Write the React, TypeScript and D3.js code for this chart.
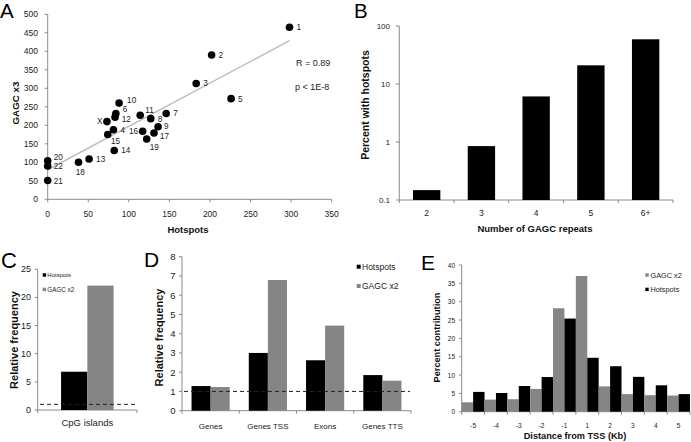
import React from "react";
import * as d3 from "d3";

// ---------- Panel A data ----------
const pointLabels = ["1","2","3","4","5","6","7","8","9","10","11","12","13","14","15","16","17","18","19","20","21","22","X"];
const hotspotCounts = [298,202,183,81,226,84,146,127,136,88,114,83,51,82,74,117,131,38,122,0,0,0,73];
const gagcX3Counts = [465,390,313,188,272,232,232,218,196,260,227,222,109,132,175,184,179,100,163,104,51,90,210];
const scatterXTicks = [0,50,100,150,200,250,300,350];
const scatterYTicks = [0,50,100,150,200,250,300,350,400,450,500];
const statTexts = ["R = 0.89", "p < 1E-8"];

// ---------- Panel B data ----------
const repeatCategories = ["2","3","4","5","6+"];
const percentWithHotspots = [0.148,0.85,6.1,21,59];
const logTicks = [0.1,1,10,100];

// ---------- Panel C data ----------
const cpgCategories = ["CpG islands"];
const cpgHotspots = [6.8];
const cpgGagc = [22.1];
const cpgTicks = [0,5,10,15,20,25];

// ---------- Panel D data ----------
const regionCategories = ["Genes","Genes TSS","Exons","Genes TTS"];
const regionHotspots = [1.28,3.0,2.62,1.85];
const regionGagc = [1.23,6.79,4.42,1.56];
const regionTicks = [0,1,2,3,4,5,6,7,8];

// ---------- Panel E data ----------
const tssBins = ["-5","-4","-3","-2","-1","1","2","3","4","5"];
const tssGagc = [2.55,3.3,3.4,6.2,28.2,37.0,6.9,4.8,4.5,4.4];
const tssHotspots = [5.4,5.1,7.0,9.45,25.4,14.7,12.4,9.5,7.2,4.8];
const tssTicks = [0,5,10,15,20,25,30,35,40];

const expectedRatio = 1;

const FONT = "'Liberation Sans', Arial, Helvetica, sans-serif";
const AXIS = "#8a8a8a";
const GRAY = "#858585";

// label placement [dx, dy, anchor]
const labelPlacement: Record<string, [number, number, string]> = {
  X: [-4.5, 0, "end"],
  "16": [-4.5, 0, "end"],
  "18": [1.7, 10.5, "middle"],
  "15": [3.3, 7, "start"],
  "19": [3, 8.5, "start"],
  "6": [7, -4, "start"],
  "11": [5, -5, "start"],
  "10": [8, -2.5, "start"],
  "20": [6, -3.3, "start"],
  "12": [6.7, 2.3, "start"],
  "17": [6, 3, "start"],
  "9": [6, -0.5, "start"],
  "22": [6, 0.8, "start"],
  "21": [6, 1, "start"],
};

export default function App() {
  // ---------------- Panel A ----------------
  const xA = d3.scaleLinear().domain([0, 350]).range([47.7, 331.7]);
  const yA = d3.scaleLinear().domain([0, 500]).range([199.3, 14.3]);
  const mx = d3.mean(hotspotCounts) as number;
  const my = d3.mean(gagcX3Counts) as number;
  const sxy = d3.sum(hotspotCounts.map((x, i) => (x - mx) * (gagcX3Counts[i] - my)));
  const sxx = d3.sum(hotspotCounts.map((x) => (x - mx) * (x - mx)));
  const slope = sxy / sxx;
  const intercept = my - slope * mx;
  const xMax = d3.max(hotspotCounts) as number;
  const trend = d3.line()([
    [xA(0), yA(intercept)],
    [xA(xMax), yA(intercept + slope * xMax)],
  ]) as string;

  // ---------------- Panel B ----------------
  const xB = d3.scaleBand<string>().domain(repeatCategories).range([399.3, 673]).paddingInner(0.5).paddingOuter(0.25);
  const yB = d3.scaleLog().domain([0.1, 100]).range([200, 26]);
  const stepB = xB.step();

  // ---------------- Panel C ----------------
  const yC = d3.scaleLinear().domain([0, 25]).range([410, 269.3]);
  const xC = d3.scaleBand<string>().domain(cpgCategories).range([37.7, 137]);
  const innerC = d3.scaleBand<string>().domain(["h", "g"]).range([0, xC.bandwidth()]).paddingOuter(0.89);

  // ---------------- Panel D ----------------
  const yD = d3.scaleLinear().domain([0, 8]).range([410.7, 256.7]);
  const xD = d3.scaleBand<string>().domain(regionCategories).range([182, 411]);
  const innerD = d3.scaleBand<string>().domain(["h", "g"]).range([0, xD.bandwidth()]).paddingOuter(0.5);

  // ---------------- Panel E ----------------
  const yE = d3.scaleLinear().domain([0, 40]).range([411.7, 265]);
  const xE = d3.scaleBand<string>().domain(tssBins).range([461.7, 690]);
  const innerE = d3.scaleBand<string>().domain(["g", "h"]).range([0, xE.bandwidth()]);

  const bold = { fontWeight: 700 } as const;

  return (
    <svg width={691} height={442} style={{ position: "absolute", left: 0, top: 0, background: "#fff" }} fontFamily={FONT}>
      <rect x={0} y={0} width={691} height={442} fill="#fff" />

      {/* ================= A ================= */}
      <text x={0} y={18} fontSize={20.5}>A</text>
      <line x1={xA(0)} x2={xA(350)} y1={yA(0)} y2={yA(0)} stroke={AXIS} />
      <line x1={xA(0)} x2={xA(0)} y1={yA(0)} y2={yA(500)} stroke={AXIS} />
      {scatterXTicks.map((t) => (
        <g key={"ax" + t}>
          <line x1={xA(t)} x2={xA(t)} y1={yA(0)} y2={yA(0) + 3} stroke={AXIS} />
          <text x={xA(t)} y={216.5} fontSize={8.5} textAnchor="middle" fill="#222">{t}</text>
        </g>
      ))}
      {scatterYTicks.map((t) => (
        <g key={"ay" + t}>
          <line x1={xA(0) - 3} x2={xA(0)} y1={yA(t)} y2={yA(t)} stroke={AXIS} />
          <text x={38} y={yA(t)} fontSize={8.5} textAnchor="end" dominantBaseline="central" fill="#222">{t}</text>
        </g>
      ))}
      <path d={trend} stroke="#bdbdbd" strokeWidth={1.5} fill="none" />
      {hotspotCounts.map((x, i) => {
        const lab = pointLabels[i];
        const [dx, dy, anchor] = labelPlacement[lab] || [7, 0.5, "start"];
        return (
          <g key={"p" + i}>
            <circle cx={xA(x)} cy={yA(gagcX3Counts[i])} r={3.8} fill="#000" />
            <text x={xA(x) + dx} y={yA(gagcX3Counts[i]) + dy} fontSize={8.2} textAnchor={anchor as any} dominantBaseline="central" fill="#222">{lab}</text>
          </g>
        );
      })}
      <text x={296} y={66} fontSize={9} fill="#222">{statTexts[0]}</text>
      <text x={295} y={90} fontSize={9} fill="#222">{statTexts[1]}</text>
      <text x={188} y={232.5} fontSize={9.5} textAnchor="middle" style={bold} fill="#111">Hotspots</text>
      <text transform={`translate(15,103) rotate(-90)`} fontSize={9.8} textAnchor="middle" dominantBaseline="central" style={bold} fill="#111">GAGC x3</text>

      {/* ================= B ================= */}
      <text x={354} y={18} fontSize={20.5}>B</text>
      <line x1={399.3} x2={673} y1={yB(0.1)} y2={yB(0.1)} stroke={AXIS} />
      <line x1={399.3} x2={399.3} y1={yB(0.1)} y2={yB(100)} stroke={AXIS} />
      {d3.range(repeatCategories.length + 1).map((i) => (
        <line key={"bt" + i} x1={399.3 + i * stepB} x2={399.3 + i * stepB} y1={yB(0.1)} y2={yB(0.1) + 3} stroke={AXIS} />
      ))}
      {logTicks.map((t) => (
        <g key={"by" + t}>
          <line x1={396} x2={399.3} y1={yB(t)} y2={yB(t)} stroke={AXIS} />
          <text x={390} y={yB(t)} fontSize={8} textAnchor="end" dominantBaseline="central" fill="#222">{t}</text>
        </g>
      ))}
      {repeatCategories.map((c, i) => (
        <g key={"bb" + c}>
          <rect x={xB(c)} y={yB(percentWithHotspots[i])} width={xB.bandwidth()} height={yB(0.1) - yB(percentWithHotspots[i])} fill="#000" />
          <text x={(xB(c) as number) + xB.bandwidth() / 2} y={216} fontSize={8.5} textAnchor="middle" fill="#222">{c}</text>
        </g>
      ))}
      <text x={535} y={231.5} fontSize={9.5} textAnchor="middle" style={bold} fill="#111">Number of GAGC repeats</text>
      <text transform={`translate(365,105) rotate(-90)`} fontSize={10.5} textAnchor="middle" dominantBaseline="central" style={bold} fill="#111">Percent with hotspots</text>

      {/* ================= C ================= */}
      <text x={1} y={268} fontSize={22}>C</text>
      <line x1={37.7} x2={137} y1={yC(0)} y2={yC(0)} stroke={AXIS} />
      <line x1={37.7} x2={37.7} y1={yC(0)} y2={yC(25)} stroke={AXIS} />
      <line x1={137} x2={137} y1={yC(0)} y2={yC(0) + 3} stroke={AXIS} />
      <line x1={37.7} x2={37.7} y1={yC(0)} y2={yC(0) + 3} stroke={AXIS} />
      {cpgTicks.map((t) => (
        <g key={"cy" + t}>
          <line x1={34.7} x2={37.7} y1={yC(t)} y2={yC(t)} stroke={AXIS} />
          <text x={31} y={yC(t)} fontSize={9} textAnchor="end" dominantBaseline="central" fill="#222">{t}</text>
        </g>
      ))}
      {cpgCategories.map((c, i) => (
        <g key={"cb" + c}>
          <rect x={(xC(c) as number) + (innerC("h") as number)} y={yC(cpgHotspots[i])} width={innerC.bandwidth()} height={yC(0) - yC(cpgHotspots[i])} fill="#000" />
          <rect x={(xC(c) as number) + (innerC("g") as number)} y={yC(cpgGagc[i])} width={innerC.bandwidth()} height={yC(0) - yC(cpgGagc[i])} fill={GRAY} />
          <text x={(xC(c) as number) + xC.bandwidth() / 2} y={426} fontSize={9.5} textAnchor="middle" fill="#222">{c}</text>
        </g>
      ))}
      <line x1={40} x2={136} y1={yC(expectedRatio)} y2={yC(expectedRatio)} stroke="#222" strokeDasharray="4,3" />
      <rect x={42.7} y={273.3} width={3.4} height={3.4} fill="#000" />
      <text x={47.3} y={275} fontSize={6} dominantBaseline="central" fill="#222">Hotspots</text>
      <rect x={42.7} y={287.7} width={3.4} height={3.4} fill={GRAY} />
      <text x={47.3} y={289.4} fontSize={6.3} dominantBaseline="central" fill="#222">GAGC x2</text>
      <text transform={`translate(13.5,340) rotate(-90)`} fontSize={11} textAnchor="middle" dominantBaseline="central" style={bold} fill="#111">Relative frequency</text>

      {/* ================= D ================= */}
      <text x={144} y={267} fontSize={21}>D</text>
      <line x1={182} x2={411} y1={yD(0)} y2={yD(0)} stroke={AXIS} />
      <line x1={182} x2={182} y1={yD(0)} y2={yD(8)} stroke={AXIS} />
      {d3.range(regionCategories.length + 1).map((i) => (
        <line key={"dt" + i} x1={182 + i * xD.step()} x2={182 + i * xD.step()} y1={yD(0)} y2={yD(0) + 3} stroke={AXIS} />
      ))}
      {regionTicks.map((t) => (
        <g key={"dy" + t}>
          <line x1={179} x2={182} y1={yD(t)} y2={yD(t)} stroke={AXIS} />
          <text x={175.5} y={yD(t)} fontSize={9.5} textAnchor="end" dominantBaseline="central" fill="#222">{t}</text>
        </g>
      ))}
      {regionCategories.map((c, i) => (
        <g key={"db" + c}>
          <rect x={(xD(c) as number) + (innerD("h") as number)} y={yD(regionHotspots[i])} width={innerD.bandwidth()} height={yD(0) - yD(regionHotspots[i])} fill="#000" />
          <rect x={(xD(c) as number) + (innerD("g") as number)} y={yD(regionGagc[i])} width={innerD.bandwidth()} height={yD(0) - yD(regionGagc[i])} fill={GRAY} />
          <text x={(xD(c) as number) + xD.bandwidth() / 2} y={429} fontSize={8} textAnchor="middle" fill="#222">{c}</text>
        </g>
      ))}
      <line x1={184} x2={410} y1={yD(expectedRatio)} y2={yD(expectedRatio)} stroke="#222" strokeDasharray="4,3" />
      <rect x={356.7} y={264.7} width={4} height={4} fill="#000" />
      <text x={362} y={267} fontSize={8.5} dominantBaseline="central" fill="#222">Hotspots</text>
      <rect x={356.7} y={284} width={4} height={4} fill={GRAY} />
      <text x={362} y={286.3} fontSize={8.5} dominantBaseline="central" fill="#222">GAGC x2</text>
      <text transform={`translate(159,337.5) rotate(-90)`} fontSize={11} textAnchor="middle" dominantBaseline="central" style={bold} fill="#111">Relative frequency</text>

      {/* ================= E ================= */}
      <text x={421} y={270} fontSize={21}>E</text>
      <line x1={461.7} x2={690} y1={yE(0)} y2={yE(0)} stroke={AXIS} />
      <line x1={461.7} x2={461.7} y1={yE(0)} y2={yE(40)} stroke={AXIS} />
      {d3.range(tssBins.length + 1).map((i) => (
        <line key={"et" + i} x1={461.7 + i * xE.step()} x2={461.7 + i * xE.step()} y1={yE(0)} y2={yE(0) + 3} stroke={AXIS} />
      ))}
      {tssTicks.map((t) => (
        <g key={"ey" + t}>
          <line x1={459} x2={461.7} y1={yE(t)} y2={yE(t)} stroke={AXIS} />
          <text x={455} y={yE(t)} fontSize={6.5} textAnchor="end" dominantBaseline="central" fill="#222">{t}</text>
        </g>
      ))}
      {tssBins.map((c, i) => (
        <g key={"eb" + c}>
          <rect x={(xE(c) as number) + (innerE("g") as number)} y={yE(tssGagc[i])} width={innerE.bandwidth()} height={yE(0) - yE(tssGagc[i])} fill={GRAY} />
          <rect x={(xE(c) as number) + (innerE("h") as number)} y={yE(tssHotspots[i])} width={innerE.bandwidth()} height={yE(0) - yE(tssHotspots[i])} fill="#000" />
          <text x={(xE(c) as number) + xE.bandwidth() / 2} y={427.5} fontSize={6.5} textAnchor="middle" fill="#222">{c}</text>
        </g>
      ))}
      <rect x={645.3} y={273.3} width={3.4} height={3.4} fill={GRAY} />
      <text x={650.5} y={275.2} fontSize={7.3} dominantBaseline="central" fill="#222">GAGC x2</text>
      <rect x={645.3} y={287.7} width={3.4} height={3.4} fill="#000" />
      <text x={650.5} y={289.6} fontSize={7.3} dominantBaseline="central" fill="#222">Hotspots</text>
      <text x={575} y={438.5} fontSize={9.2} textAnchor="middle" style={bold} fill="#111">Distance from TSS (Kb)</text>
      <text transform={`translate(437,337.5) rotate(-90)`} fontSize={9.2} textAnchor="middle" dominantBaseline="central" style={bold} fill="#111">Percent contribution</text>
    </svg>
  );
}
